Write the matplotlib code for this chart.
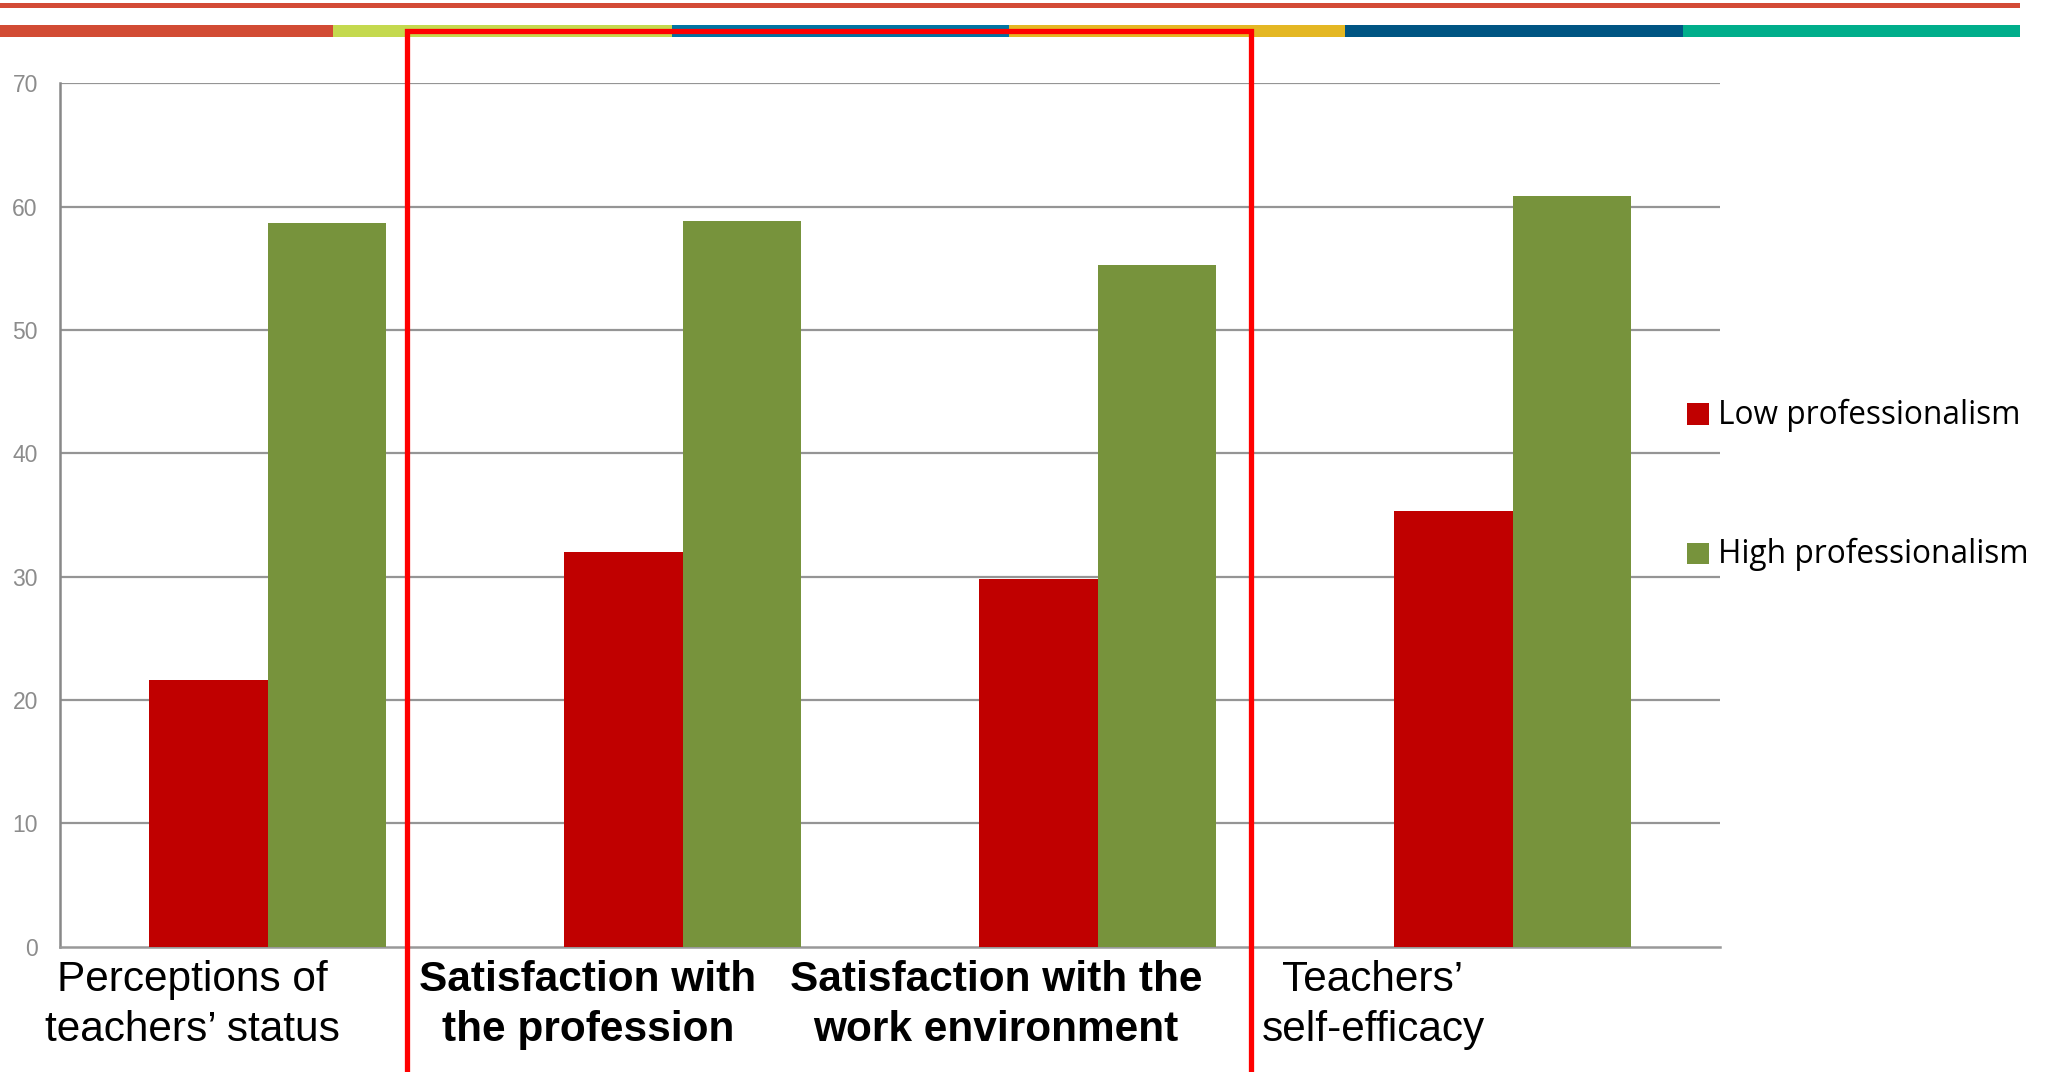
import matplotlib
matplotlib.use("Agg")
import matplotlib.pyplot as plt
from matplotlib.patches import Rectangle
from matplotlib.lines import Line2D
import numpy as np

# ---- data ----
categories = ["Perceptions of\nteachers’ status", "Satisfaction with\nthe profession",
              "Satisfaction with the\nwork environment", "Teachers’\nself-efficacy"]
bold_flags = [False, True, True, False]
low_values = [21.6, 32.0, 29.8, 35.35]
high_values = [58.65, 58.8, 55.27, 60.87]
series_names = ["Low professionalism", "High professionalism"]
yticks = [0, 10, 20, 30, 40, 50, 60, 70]

W, H = 2058, 1072
fig = plt.figure(figsize=(W / 100, H / 100), dpi=100)
fig.patch.set_facecolor("white")

def fx(px):
    return px / W

def fy(py):
    return 1 - py / H

# axes placement
ax_left, ax_right, ax_top, ax_bottom = 60, 1720, 83.3, 946.7
ax = fig.add_axes([fx(ax_left), fy(ax_bottom), fx(ax_right - ax_left), (ax_bottom - ax_top) / H])

x = np.arange(len(categories))
bw = 0.286
red = "#C00000"
green = "#77933C"
ax.bar(x - bw / 2, low_values, width=bw, color=red, linewidth=0, zorder=3, label=series_names[0])
ax.bar(x + bw / 2, high_values, width=bw, color=green, linewidth=0, zorder=3, label=series_names[1])

ax.set_xlim(-0.5, len(categories) - 0.5)
ax.set_ylim(0, 70)
ax.set_yticks(yticks)
ax.set_yticklabels([str(v) for v in yticks], fontsize=16.5, color="#8C8C8C", family="Liberation Sans")
ax.tick_params(axis="y", length=0, pad=16)
ax.set_xticks([])
grid_color = "#959595"
for v in yticks[1:]:
    ax.axhline(v, color=grid_color, linewidth=1.6, zorder=1)
for s in ["top", "right"]:
    ax.spines[s].set_visible(False)
ax.spines["left"].set_color("#888888")
ax.spines["left"].set_linewidth(1.8)
ax.spines["bottom"].set_color("#999999")
ax.spines["bottom"].set_linewidth(1.8)

# ---- category labels (text boxes) ----
label_centers = [192, 588, 996, 1373]
baselines = [991, 1041]
for lab, bold, cx in zip(categories, bold_flags, label_centers):
    for line, by in zip(lab.split("\n"), baselines):
        fig.text(fx(cx), fy(by), line, ha="center", va="baseline", fontsize=30.5,
                 family="Liberation Sans", fontweight="bold" if bold else "normal", color="black")

# ---- legend (manual) ----
leg_y = [424, 563]
for name, col, by in zip(series_names, [red, green], leg_y):
    fig.patches.append(Rectangle((fx(1687), fy(by + 1)), fx(21.5), 21.5 / H, transform=fig.transFigure,
                                 facecolor=col, edgecolor="none"))
    fig.text(fx(1718), fy(by), name, ha="left", va="baseline", fontsize=22.8, family="Open Sans", color="black")

# ---- top decoration ----
fig.patches.append(Rectangle((0, fy(7.7)), fx(2020), 4.7 / H, transform=fig.transFigure,
                             facecolor="#D34A36", edgecolor="none"))
band_colors = ["#D24B34", "#C4D94E", "#0075A2", "#E4B723", "#005583", "#00AE8B"]
band_edges = [0, 333, 672, 1009, 1345, 1683, 2020]
for i, c in enumerate(band_colors):
    fig.patches.append(Rectangle((fx(band_edges[i]), fy(37)), fx(band_edges[i + 1] - band_edges[i]), 12 / H,
                                 transform=fig.transFigure, facecolor=c, edgecolor="none"))

# ---- red highlight box ----
box_l, box_r, box_t = 406.5, 1251, 31
fig.add_artist(Line2D([fx(box_l), fx(box_l), fx(box_r), fx(box_r)], [fy(H + 10), fy(box_t), fy(box_t), fy(H + 10)],
                      transform=fig.transFigure, color="#FF0000", linewidth=3.8, solid_joinstyle="miter"))

fig.savefig("out.png", dpi=100, facecolor="white")
